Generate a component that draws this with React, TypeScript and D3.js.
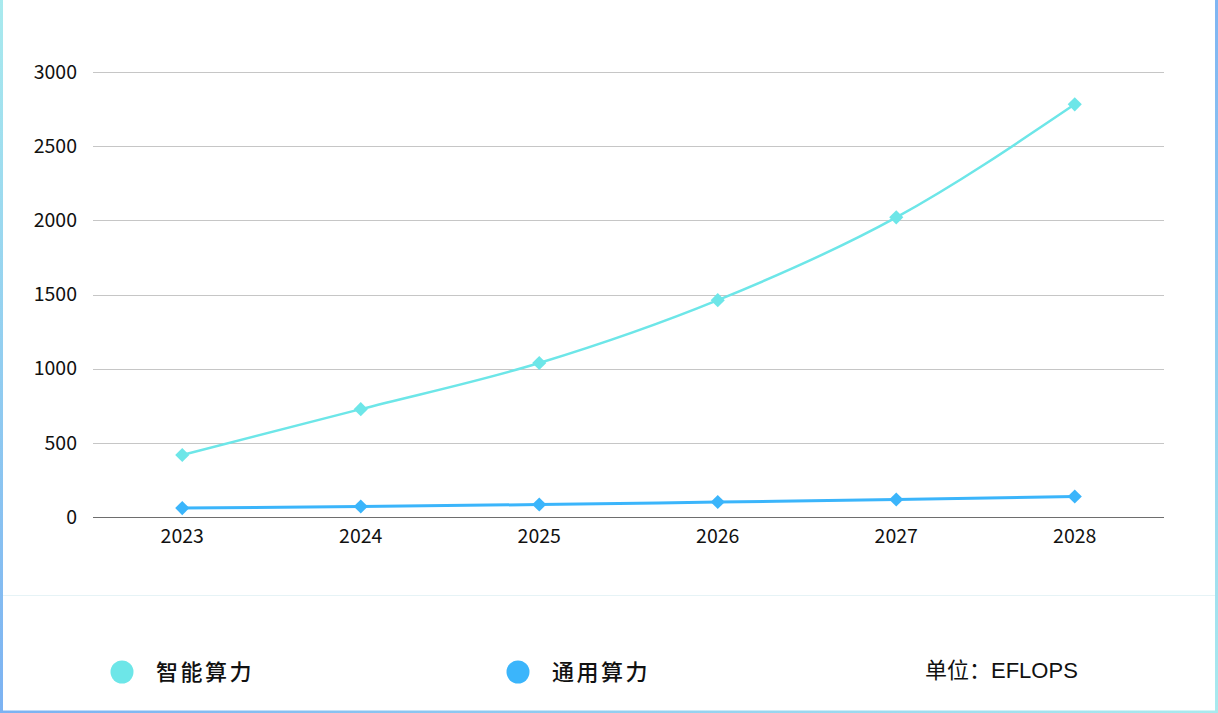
import React, { useEffect, useRef } from "react";
import * as d3 from "d3";

const years = ["2023", "2024", "2025", "2026", "2027", "2028"];
const aiCompute = [418, 727, 1038, 1462, 2020, 2782];
const generalCompute = [60, 71, 84, 101, 118, 138];
const yTicks = [0, 500, 1000, 1500, 2000, 2500, 3000];
const seriesNames = ["智能算力", "通用算力"];
const seriesColors = ["#6de6e8", "#3bb5fb"];
const unitLabel = "单位：EFLOPS";

const W = 1218;
const H = 713;

export default function App() {
  const ref = useRef<SVGSVGElement | null>(null);

  useEffect(() => {
    document.body.style.margin = "0";
    const svg = d3.select(ref.current);
    svg.selectAll("*").remove();

    const defs = svg.append("defs");
    const gL = defs.append("linearGradient").attr("id", "gl").attr("x1", 0).attr("y1", 0).attr("x2", 0).attr("y2", 1);
    gL.append("stop").attr("offset", "0%").attr("stop-color", "#a9eaee");
    gL.append("stop").attr("offset", "100%").attr("stop-color", "#7cb2f2");
    const gR = defs.append("linearGradient").attr("id", "gr").attr("x1", 0).attr("y1", 0).attr("x2", 0).attr("y2", 1);
    gR.append("stop").attr("offset", "0%").attr("stop-color", "#7fb5f2");
    gR.append("stop").attr("offset", "100%").attr("stop-color", "#a9eaee");
    const gB = defs.append("linearGradient").attr("id", "gb").attr("x1", 0).attr("y1", 0).attr("x2", 1).attr("y2", 0);
    gB.append("stop").attr("offset", "0%").attr("stop-color", "#7cb2f2");
    gB.append("stop").attr("offset", "100%").attr("stop-color", "#a9eaee");

    svg.append("rect").attr("width", W).attr("height", H).attr("fill", "#fff");
    svg.append("line").attr("x1", 3).attr("x2", W - 3).attr("y1", 595.5).attr("y2", 595.5)
      .attr("stroke", "#e6f3f6").attr("stroke-width", 1);

    svg.append("rect").attr("x", 0).attr("y", 0).attr("width", 3).attr("height", H).attr("fill", "url(#gl)");
    svg.append("rect").attr("x", W - 3).attr("y", 0).attr("width", 3).attr("height", H).attr("fill", "url(#gr)");
    svg.append("rect").attr("x", 0).attr("y", H - 2.5).attr("width", W).attr("height", 2.5).attr("fill", "url(#gb)");

    const x = d3.scaleBand().domain(years).range([93, 1164]);
    const y = d3.scaleLinear().domain([0, 3000]).range([517, 72]);
    const cx = (d: string) => (x(d) as number) + x.bandwidth() / 2;

    const fontAxis = "'Noto Sans CJK SC', 'Noto Sans', sans-serif";

    svg.append("g").selectAll("line").data(yTicks.filter((t) => t > 0)).join("line")
      .attr("x1", 93).attr("x2", 1164)
      .attr("y1", (d) => Math.round(y(d)) + 0.5).attr("y2", (d) => Math.round(y(d)) + 0.5)
      .attr("stroke", "#c6c6c6").attr("stroke-width", 1);
    svg.append("line").attr("x1", 93).attr("x2", 1164)
      .attr("y1", Math.round(y(0)) + 0.5).attr("y2", Math.round(y(0)) + 0.5)
      .attr("stroke", "#6e6e6e").attr("stroke-width", 1);

    svg.append("g").selectAll("text").data(yTicks).join("text")
      .attr("x", 77).attr("y", (d) => y(d)).attr("dy", "0.35em")
      .attr("text-anchor", "end").attr("font-family", fontAxis).attr("font-size", 19.5)
      .attr("fill", "#111").text((d) => String(d));

    svg.append("g").selectAll("text").data(years).join("text")
      .attr("x", (d) => cx(d)).attr("y", 536).attr("dy", "0.35em")
      .attr("text-anchor", "middle").attr("font-family", fontAxis).attr("font-size", 19.5)
      .attr("fill", "#111").text((d) => d);

    const series = [aiCompute, generalCompute];
    const widths = [2.5, 3];
    series.forEach((vals, i) => {
      const pts: [number, number][] = years.map((yr, j) => [cx(yr), y(vals[j])]);
      const line = d3.line().curve(d3.curveMonotoneX);
      svg.append("path").attr("d", line(pts) as string).attr("fill", "none")
        .attr("stroke", seriesColors[i]).attr("stroke-width", widths[i]);
      const sym = d3.symbol().type(d3.symbolSquare).size(100);
      svg.append("g").selectAll("path").data(pts).join("path")
        .attr("d", sym() as string)
        .attr("transform", (p) => `translate(${p[0]},${p[1]}) rotate(45)`)
        .attr("fill", seriesColors[i]);
    });

    const legendX = [122, 518];
    seriesNames.forEach((name, i) => {
      svg.append("circle").attr("cx", legendX[i]).attr("cy", 672).attr("r", 11.5).attr("fill", seriesColors[i]);
      svg.append("text").attr("x", legendX[i] + 34).attr("y", 672).attr("dy", "0.36em")
        .attr("font-family", fontAxis).attr("font-size", 22).attr("font-weight", 500)
        .attr("letter-spacing", 2.5).attr("fill", "#111").text(name);
    });
    svg.append("text").attr("x", 925).attr("y", 670).attr("dy", "0.36em")
      .attr("font-family", "'Liberation Sans', 'Noto Sans CJK SC', sans-serif").attr("font-size", 22)
      .attr("fill", "#111").text(unitLabel);
  }, []);

  return (
    <div style={{ position: "absolute", left: 0, top: 0, width: W, height: H }}>
      <svg ref={ref} width={W} height={H} style={{ display: "block" }} />
    </div>
  );
}
